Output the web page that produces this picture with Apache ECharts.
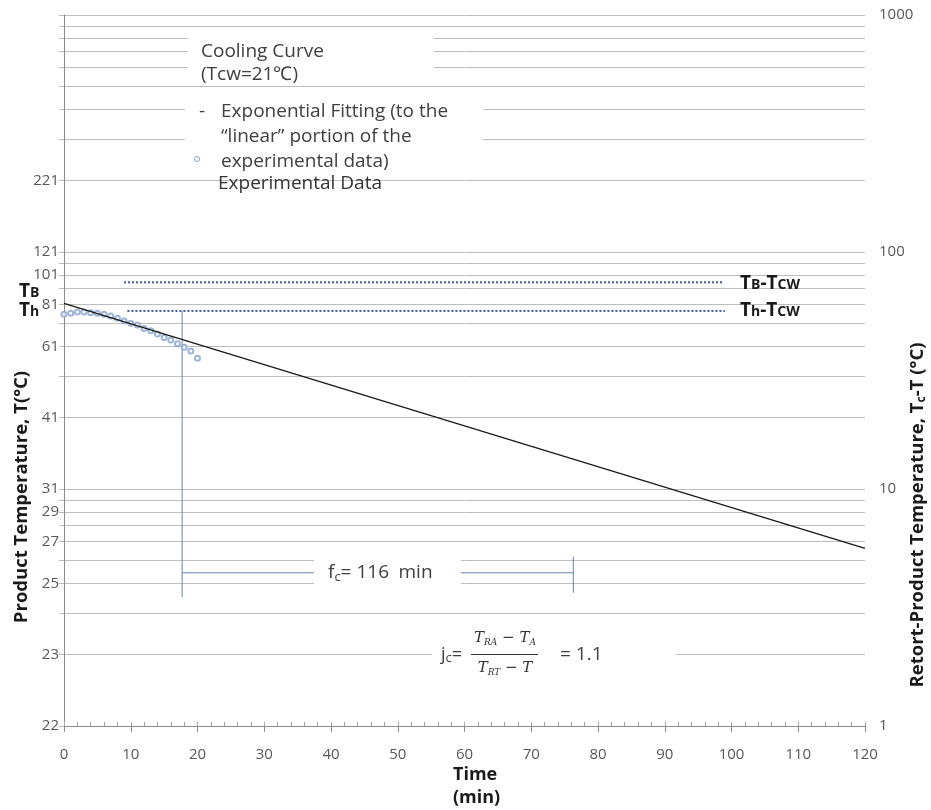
<!DOCTYPE html>
<html>
<head>
<meta charset="utf-8">
<script src="https://cdn.jsdelivr.net/npm/echarts@6/dist/echarts.min.js"></script>
<style>
  html, body { margin: 0; padding: 0; background: #fff; }
  #chart { width: 931px; height: 810px; }
</style>
</head>
<body>
<div id="chart"></div>
<script>
// values are retort - product differences (Tc-T), cooling water at 21 C
var tcw = 21;

var expTime = [0, 1, 2, 3, 4, 5, 6, 7, 8, 9, 10, 11, 12, 13, 14, 15, 16, 17, 18, 19, 20];
var expDiff = [54.6, 55.1, 55.8, 55.8, 55.4, 55.1, 54.6, 53.7, 52.5, 51.1, 50.0,
               49.2, 47.6, 46.5, 45.1, 43.6, 42.5, 41.0, 39.6, 38.2, 35.6];

var fitTime = [0, 120];
var fitDiff = [60.7, 5.62];

var tbLevel = 74.5;
var thLevel = 56.4;
var tbTime = [9, 98.7];
var thTime = [9.5, 99];

var fcStart = 17.7;
var fcEnd = 76.3;
var fcLevel = 4.43;
var fcDrop = [thLevel, 3.5];
var fcCap = [5.18, 3.65];

// grid lines and labelled ticks of the log axis
var gridDiffs = [1, 2, 3, 4, 5, 6, 7, 8, 9, 10, 20, 30, 40, 50, 60, 70, 80, 90,
                 100, 200, 300, 400, 500, 600, 700, 800, 900, 1000];
var labelDiffs = [1, 2, 4, 6, 8, 10, 20, 40, 60, 80, 100, 200];

var gridColor = '#bdbdbd';
var axisColor = '#8c8c8c';
var labelColor = '#595959';
var markColor = '#6384b5';
var dotColor = '#3f5b94';

function pairs(xs, ys) {
  return xs.map(function (x, i) { return [x, ys[i]]; });
}

function thinLine(data, color, type, width) {
  return {
    type: 'line', xAxisIndex: 0, yAxisIndex: 1, data: data,
    symbol: 'none', silent: true,
    lineStyle: { color: color, width: width || 1, type: type || 'solid' }
  };
}

var chart = echarts.init(document.getElementById('chart'));

var subT = { fontFamily: 'Open Sans', fontWeight: 'bold', fontSize: 19, fill: '#1a1a1a' };
var subS = { fontFamily: 'Open Sans', fontWeight: 'bold', fontSize: 14, verticalAlign: 'middle', padding: [3, 0, 0, 0], fill: '#1a1a1a' };
var legendFont = { fontFamily: 'Open Sans', fontSize: 19, fill: '#404040' };

function txt(x, y, text, extra) {
  var style = Object.assign({ text: text, x: x, y: y, verticalAlign: 'middle' }, legendFont, extra || {});
  return { type: 'text', z: 20, style: style };
}

function mask(x, y, w, h) {
  return { type: 'rect', z: 15, shape: { x: x, y: y, width: w, height: h }, style: { fill: '#fff' } };
}

var mathT = { fontFamily: 'DejaVu Serif', fontStyle: 'italic', fontSize: 15, lineHeight: 18, fill: '#333' };
var mathS = { fontFamily: 'DejaVu Serif', fontStyle: 'italic', fontSize: 9, lineHeight: 12, verticalAlign: 'bottom', fill: '#333' };
var mathOp = { fontFamily: 'DejaVu Serif', fontSize: 15, lineHeight: 18, fill: '#333' };

var option = {
  animation: false,
  textStyle: { fontFamily: 'Open Sans' },
  grid: { left: 64, right: 66, top: 15, bottom: 84 },
  xAxis: [
    {
      type: 'value', min: 0, max: 120, interval: 10,
      axisLine: { lineStyle: { color: axisColor } },
      axisTick: { length: 6, lineStyle: { color: axisColor } },
      axisLabel: { color: labelColor, fontSize: 15, margin: 21 },
      splitLine: { show: false }
    },
    {
      type: 'value', min: 0, max: 120, interval: 2, position: 'bottom',
      axisLine: { show: false },
      axisTick: { inside: true, length: 4, lineStyle: { color: '#a6a6a6' } },
      axisLabel: { show: false },
      splitLine: { show: false }
    }
  ],
  yAxis: [
    {
      // tick/grid helper on the same pixel span as the log axis
      type: 'value', min: 0, max: 3, position: 'left',
      axisLine: { show: true, lineStyle: { color: axisColor } },
      axisTick: { show: true, length: 5, customValues: gridDiffs.map(Math.log10), lineStyle: { color: gridColor } },
      axisLabel: {
        customValues: labelDiffs.map(Math.log10),
        formatter: function (v) { return String(Math.round(Math.pow(10, v)) + tcw); },
        color: labelColor, fontSize: 15, margin: 5
      },
      splitLine: { show: true, lineStyle: { color: gridColor } }
    },
    {
      type: 'log', logBase: 10, min: 1, max: 1000, position: 'right',
      axisLine: { show: false },
      axisTick: { show: false },
      splitLine: { show: false },
      axisLabel: {
        color: labelColor, fontSize: 15, margin: 14,
        formatter: function (v) { return String(v); }
      }
    }
  ],
  series: [
    thinLine([[tbTime[0], tbLevel], [tbTime[1], tbLevel]], dotColor, [2, 2], 2),
    thinLine([[thTime[0], thLevel], [thTime[1], thLevel]], dotColor, [2, 2], 2),
    thinLine([[fcStart, fcDrop[0]], [fcStart, fcDrop[1]]], markColor),
    thinLine([[fcStart, fcLevel], [fcEnd, fcLevel]], markColor),
    thinLine([[fcEnd, fcCap[0]], [fcEnd, fcCap[1]]], markColor),
    {
      name: 'Exponential Fitting', type: 'line', xAxisIndex: 0, yAxisIndex: 1,
      data: pairs(fitTime, fitDiff), symbol: 'none', z: 4,
      lineStyle: { color: '#1a1a1a', width: 1.4 }
    },
    {
      name: 'Experimental Data', type: 'scatter', xAxisIndex: 0, yAxisIndex: 1,
      data: pairs(expTime, expDiff), symbol: 'emptyCircle', symbolSize: 5, z: 3,
      itemStyle: { color: '#86a2cf', borderWidth: 1 }
    }
  ],
  graphic: [
    mask(188, 30, 246, 50),
    mask(185, 94, 298, 76),
    mask(314, 554, 147, 36),
    mask(432, 622, 244, 60),

    txt(201, 52, 'Cooling Curve'),
    txt(201, 75, '(Tcw=21℃)'),
    txt(199, 112, '-'),
    txt(221, 112, 'Exponential Fitting (to the'),
    txt(221, 137, '“linear” portion of the'),
    txt(221, 162, 'experimental data)'),
    { type: 'circle', z: 20, shape: { cx: 197, cy: 159, r: 2.5 }, style: { fill: '#fff', stroke: '#86a2cf', lineWidth: 1 } },
    txt(218, 184, 'Experimental Data', { fill: '#333' }),

    {
      type: 'text', z: 20,
      style: {
        x: 328, y: 573, verticalAlign: 'middle',
        text: '{a|f}{b|c}{a|= 116\u2002min}',
        rich: {
          a: { fontFamily: 'Open Sans', fontSize: 19, lineHeight: 22, fill: '#404040' },
          b: { fontFamily: 'Open Sans', fontSize: 13, lineHeight: 18, verticalAlign: 'bottom', fill: '#404040' }
        }
      }
    },

    {
      type: 'text', z: 20,
      style: {
        x: 441, y: 655, verticalAlign: 'middle',
        text: '{a|j}{b|c}{a|=}',
        rich: {
          a: { fontFamily: 'Open Sans', fontSize: 18, lineHeight: 20, fill: '#404040' },
          b: { fontFamily: 'Open Sans', fontSize: 13, lineHeight: 18, verticalAlign: 'bottom', fill: '#404040' }
        }
      }
    },
    {
      type: 'text', z: 20,
      style: {
        x: 505, y: 638, align: 'center', verticalAlign: 'middle',
        text: '{t|T}{s|RA}{o| − }{t|T}{s|A}',
        rich: { t: mathT, s: mathS, o: mathOp }
      }
    },
    { type: 'line', z: 20, shape: { x1: 471, y1: 654.5, x2: 538, y2: 654.5 }, style: { stroke: '#333', lineWidth: 1 } },
    {
      type: 'text', z: 20,
      style: {
        x: 505, y: 668, align: 'center', verticalAlign: 'middle',
        text: '{t|T}{s|RT}{o| − }{t|T}',
        rich: { t: mathT, s: mathS, o: mathOp }
      }
    },
    txt(560, 655, '= 1.1'),

    {
      type: 'text', z: 20,
      style: { x: 19, y: 292, verticalAlign: 'middle', text: '{t|T}{s|B}', rich: { t: subT, s: subS } }
    },
    {
      type: 'text', z: 20,
      style: { x: 19, y: 311, verticalAlign: 'middle', text: '{t|T}{s|h}', rich: { t: subT, s: subS } }
    },
    {
      type: 'text', z: 20,
      style: { x: 740, y: 284, verticalAlign: 'middle', text: '{t|T}{s|B}{t|-T}{s|CW}', rich: { t: subT, s: subS } }
    },
    {
      type: 'text', z: 20,
      style: { x: 740, y: 311, verticalAlign: 'middle', text: '{t|T}{s|h}{t|-T}{s|CW}', rich: { t: subT, s: subS } }
    },

    {
      type: 'text', z: 20, x: 22, y: 497, rotation: Math.PI / 2,
      style: {
        text: 'Product Temperature, T(°C)', align: 'center', verticalAlign: 'middle',
        fontFamily: 'Open Sans', fontWeight: 'bold', fontSize: 18.5, fill: '#1a1a1a'
      }
    },
    {
      type: 'text', z: 20, x: 918, y: 515, rotation: Math.PI / 2,
      style: {
        text: '{a|Retort-Product Temperature, T}{b|c}{a|-T (°C)}', align: 'center', verticalAlign: 'middle',
        rich: {
          a: { fontFamily: 'Open Sans', fontWeight: 'bold', fontSize: 18.5, lineHeight: 20, fill: '#1a1a1a' },
          b: { fontFamily: 'Open Sans', fontWeight: 'bold', fontSize: 12, lineHeight: 16, verticalAlign: 'bottom', fill: '#1a1a1a' }
        }
      }
    },
    {
      type: 'text', z: 20,
      style: {
        x: 453, y: 763, text: 'Time\n(min)', lineHeight: 23,
        fontFamily: 'Open Sans', fontWeight: 'bold', fontSize: 18, fill: '#1a1a1a'
      }
    }
  ]
};

chart.setOption(option);
</script>
</body>
</html>
